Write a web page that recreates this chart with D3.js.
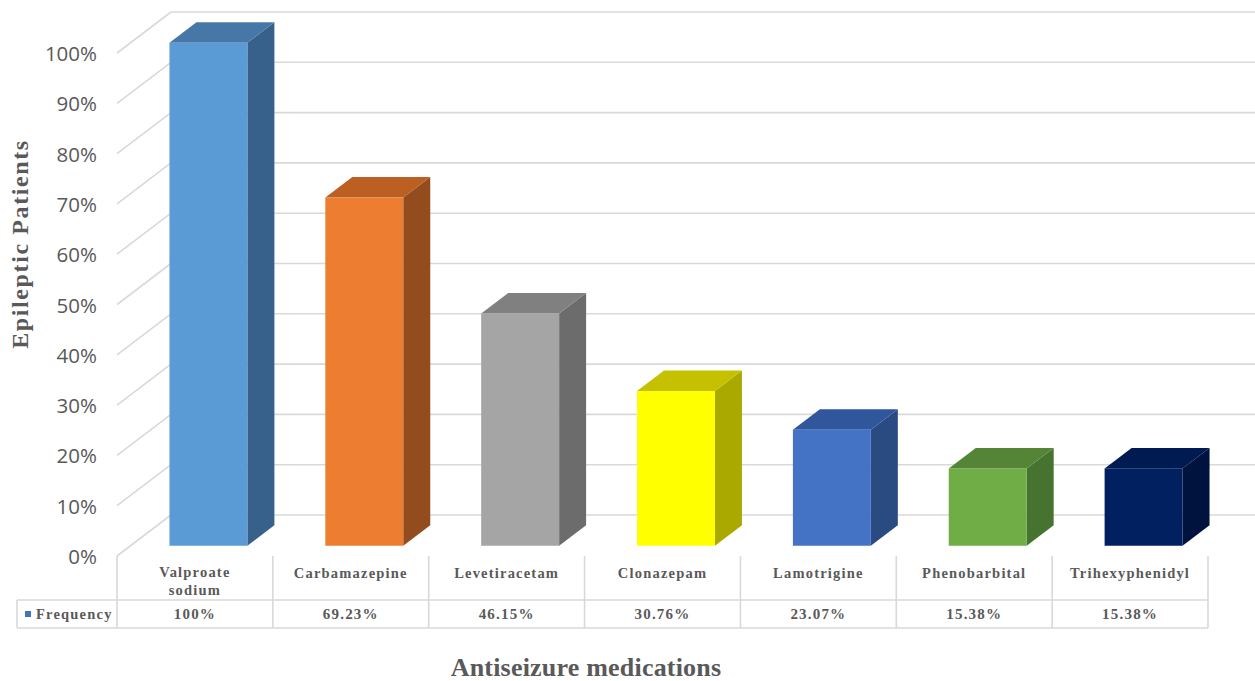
<!DOCTYPE html>
<html>
<head>
<meta charset="utf-8">
<script src="https://cdn.jsdelivr.net/npm/d3@7"></script>
<style>
  html, body { margin: 0; padding: 0; background: #ffffff; }
  svg { display: block; }
</style>
</head>
<body>
<svg id="chart" width="1255" height="681"></svg>
<script>
// ---- data ----
const categories = ["Valproate sodium", "Carbamazepine", "Levetiracetam", "Clonazepam",
                    "Lamotrigine", "Phenobarbital", "Trihexyphenidyl"];
const frequency = [100, 69.23, 46.15, 30.76, 23.07, 15.38, 15.38];   // percent of patients
const tickValues = [0, 10, 20, 30, 40, 50, 60, 70, 80, 90, 100];
const seriesName = "Frequency";
const frontColors = ["#5B9BD5", "#ED7D31", "#A5A5A5", "#FFFF00", "#4472C4", "#70AD47", "#002060"];
const topColors   = ["#4677A7", "#BC5F22", "#808080", "#C6C100", "#30579C", "#548536", "#001B51"];
const sideColors  = ["#37608A", "#934C1E", "#6C6C6C", "#A9A900", "#2A4A82", "#477330", "#00133F"];

const svg = d3.select("#chart");
const W = 1255;

// ---- geometry ----
const left = 117, right = 1208;
const depth = { dx: 54, dy: -41 };          // offset from front plane to back wall
const barZ0 = 0.25, barZ1 = 0.75;           // bar occupies middle half of the depth

const y = d3.scaleLinear().domain([0, 100]).range([556, 53]);
const xCol = d3.scaleBand().domain(categories).range([left, right]);
const xBar = d3.scaleBand().domain(categories).range([left, right])
  .paddingInner(0.5).paddingOuter(0.25);

const gridColor = "#d9d9d9";
const textColor = "#595959";
const serif = "'Liberation Serif', 'Times New Roman', serif";

// ---- back wall gridlines ----
const grid = svg.append("g").attr("stroke", gridColor).attr("stroke-width", 1.6).attr("fill", "none");
grid.selectAll("line.back").data(tickValues).join("line")
  .attr("class", "back")
  .attr("x1", left + depth.dx).attr("x2", W)
  .attr("y1", d => y(d) + depth.dy).attr("y2", d => y(d) + depth.dy);

// ---- side wall gridlines ----
grid.selectAll("line.side").data(tickValues).join("line")
  .attr("class", "side")
  .attr("x1", left).attr("y1", d => y(d))
  .attr("x2", left + depth.dx).attr("y2", d => y(d) + depth.dy);

// ---- y axis labels ----
const yAxis = d3.axisLeft(y).tickValues(tickValues).tickSize(0).tickPadding(20)
  .tickFormat(d => d + "%");
const gy = svg.append("g").attr("transform", `translate(${left},1)`).call(yAxis);
gy.select(".domain").remove();
gy.selectAll("text")
  .attr("fill", textColor)
  .style("font-family", "'Open Sans', sans-serif")
  .style("font-size", "20.5px");

// ---- 3D bars ----
const bars = svg.append("g");
categories.forEach((c, i) => {
  const v = frequency[i];
  const x0 = xBar(c) + barZ0 * depth.dx;
  const x1 = x0 + xBar.bandwidth();
  const yt = y(v) + barZ0 * depth.dy;
  const yb = y(0) + barZ0 * depth.dy;
  const ddx = (barZ1 - barZ0) * depth.dx, ddy = (barZ1 - barZ0) * depth.dy;
  const g = bars.append("g");
  // side face
  g.append("path")
    .attr("d", `M${x1},${yt}L${x1 + ddx},${yt + ddy}L${x1 + ddx},${yb + ddy}L${x1},${yb}Z`)
    .attr("fill", sideColors[i]);
  // top face
  g.append("path")
    .attr("d", `M${x0},${yt}L${x1},${yt}L${x1 + ddx},${yt + ddy}L${x0 + ddx},${yt + ddy}Z`)
    .attr("fill", topColors[i]);
  // front face
  g.append("rect")
    .attr("x", x0).attr("y", yt)
    .attr("width", x1 - x0).attr("height", yb - yt)
    .attr("fill", frontColors[i]);
});

// ---- data table ----
const tTop = 556, tMid = 600, tBot = 628, tLeft = 17;
const table = svg.append("g").attr("stroke", gridColor).attr("stroke-width", 1.6);
const colEdges = categories.map(c => xCol(c)).concat([right]);
table.selectAll("line.v").data(colEdges).join("line")
  .attr("class", "v")
  .attr("x1", d => d).attr("x2", d => d)
  .attr("y1", tTop).attr("y2", tBot);
table.append("line").attr("x1", tLeft).attr("x2", tLeft).attr("y1", tMid).attr("y2", tBot);
table.append("line").attr("x1", tLeft).attr("x2", right).attr("y1", tMid).attr("y2", tMid);
table.append("line").attr("x1", tLeft).attr("x2", right).attr("y1", tBot).attr("y2", tBot);

const labelStyle = sel => sel
  .attr("fill", textColor)
  .attr("text-anchor", "middle")
  .style("font-family", serif)
  .style("font-weight", "bold")
  .style("font-size", "14.5px")
  .style("letter-spacing", "1.2px");

// category names
categories.forEach(c => {
  const words = c.split(" ");
  const cx = xCol(c) + xCol.bandwidth() / 2;
  const t = svg.append("text").call(labelStyle);
  if (words.length > 1) {
    words.forEach((w, k) => t.append("tspan").attr("x", cx).attr("y", 577 + k * 18).text(w));
  } else {
    t.attr("x", cx).attr("y", 578).text(c);
  }
});

// values row
categories.forEach((c, i) => {
  svg.append("text").call(labelStyle)
    .style("font-size", "15px")
    .attr("x", xCol(c) + xCol.bandwidth() / 2).attr("y", 619)
    .text(frequency[i] + "%");
});

// legend key
svg.append("rect").attr("x", 25).attr("y", 611).attr("width", 6).attr("height", 6)
  .attr("fill", frontColors[4]);
svg.append("text").call(labelStyle)
  .attr("text-anchor", "start")
  .attr("x", 36).attr("y", 619)
  .text(seriesName);

// ---- axis titles ----
svg.append("text")
  .attr("transform", "translate(28,244) rotate(-90)")
  .attr("text-anchor", "middle")
  .attr("fill", textColor)
  .style("font-family", serif).style("font-weight", "bold")
  .style("font-size", "24px").style("letter-spacing", "1.6px")
  .text("Epileptic Patients");

svg.append("text")
  .attr("x", 586).attr("y", 676)
  .attr("text-anchor", "middle")
  .attr("fill", textColor)
  .style("font-family", serif).style("font-weight", "bold")
  .style("font-size", "26px").style("letter-spacing", "0.2px")
  .text("Antiseizure medications");
</script>
</body>
</html>
